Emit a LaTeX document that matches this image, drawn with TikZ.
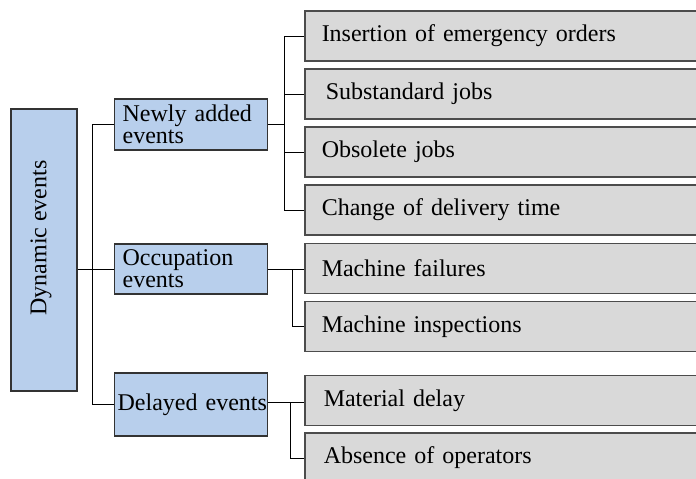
\documentclass[tikz,border=0pt]{standalone}
\usepackage{fontspec}
\setmainfont{Liberation Serif}

\definecolor{evblue}{HTML}{B8CFEC}
\definecolor{leafgray}{HTML}{D9D9D9}

\tikzset{
  dynbox/.style={draw=black!80, line width=1.3pt, fill=evblue,
    minimum width=66pt, minimum height=282pt, inner sep=0pt},
  catbox/.style={draw=black!80, line width=1.3pt, fill=evblue, anchor=west,
    minimum height=50pt, text width=137pt, inner xsep=8pt, inner ysep=0pt,
    align=left},
  leafbox/.style={draw=black!70, line width=1.5pt, fill=leafgray, anchor=west,
    minimum height=50pt, text width=382pt, inner xsep=17pt, inner ysep=0pt,
    align=left},
  link/.style={draw=black, line width=1pt}
}

\begin{document}
\begin{tikzpicture}[x=1pt, y=-1pt, font=\fontsize{24}{22}\selectfont]
    % Left edge of the leaf column
    \def\leafx{304}

    \clip (0,0) rectangle (696,479);
    \fill[white] (0,0) rectangle (696,479);

    % root
    \node[dynbox] (dyn) at (44,250) {};
    \node[rotate=90] at (41,238) {Dynamic events};

    % event categories
    \node[catbox, minimum height=51pt] (newly) at (114,124.5) {Newly added\\events};
    \node[catbox] (occup) at (114,269) {Occupation\\events};
    \node[catbox, minimum height=63pt, inner xsep=3pt, text width=147pt] (delay) at (114,404.5) {\mbox{Delayed events}};

    % newly added events
    \node[leafbox] (ins) at (\leafx,36) {Insertion of emergency orders};
    \node[leafbox] (subst) at (\leafx,94) {\hspace{4pt}Substandard jobs};
    \node[leafbox] (obs) at (\leafx,152) {Obsolete jobs};
    \node[leafbox] (chg) at (\leafx,210) {Change of delivery time};

    % occupation events
    \node[leafbox] (fail) at (\leafx,268.5) {Machine failures};
    \node[leafbox] (insp) at (\leafx,326.5) {Machine inspections};

    % delayed events
    \node[leafbox] (mat) at (\leafx,400.5) {\hspace{2pt}Material delay};
    \node[leafbox] (absn) at (\leafx,458) {\hspace{2pt}Absence of operators};

    % root to categories
    \draw[link] (dyn.east |- occup.west) -- (occup.west);
    \draw[link] (newly.west) -- ++(-22,0) |- (delay.west);

    % categories to leaves
    \draw[link] (newly.east) -- ++(16,0) coordinate (nb);
    \draw[link] (ins.west) -| (nb) |- (chg.west);
    \foreach \n in {subst,obs}
      \draw[link] (nb |- \n.west) -- (\n.west);

    \draw[link] (occup.east) -- (occup.east -| fail.west);
    \draw[link] (occup.east) ++(24,0) coordinate (ob) -- (ob |- insp.west) -- (insp.west);

    \draw[link] (delay.east) ++(0,-2) coordinate (db) -- (db -| mat.west);
    \draw[link] (db) ++(22,0) coordinate (dv) -- (dv |- absn.west) -- (absn.west);
  \end{tikzpicture}
\end{document}
